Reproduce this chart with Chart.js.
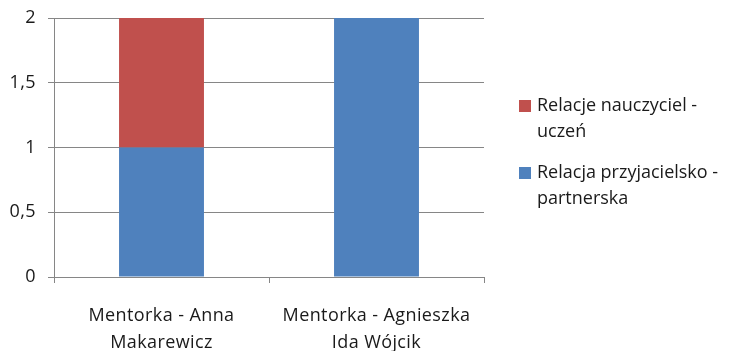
<!DOCTYPE html>
<html>
<head>
<meta charset="utf-8">
<script src="https://cdn.jsdelivr.net/npm/chart.js@4/dist/chart.umd.min.js"></script>
<style>
  html, body { margin: 0; padding: 0; background: #ffffff; }
  #wrap { width: 732px; height: 351px; }
</style>
</head>
<body>
<div id="wrap"><canvas id="c" width="732" height="351"></canvas></div>
<script>
// Categories (two-line axis labels)
const categories = [
  ["Mentorka - Anna", "Makarewicz"],
  ["Mentorka - Agnieszka", "Ida Wójcik"]
];

// Series values
const friendlyValues = [1, 2];   // Relacja przyjacielsko - partnerska
const teacherValues  = [1, 0];   // Relacje nauczyciel - uczeń

// Value axis ticks
const yTicks = [0, 0.5, 1, 1.5, 2];

// Series names, wrapped as shown in the legend
const friendlyName = ["Relacja przyjacielsko -", "partnerska"];
const teacherName  = ["Relacje nauczyciel -", "uczeń"];

const FONT = '"Open Sans", "DejaVu Sans", sans-serif';
const GRID = '#868686';
const TEXT = '#1a1a1a';

// Slightly open letter spacing for all canvas text
const spacing = {
  id: 'spacing',
  beforeInit(chart) { chart.ctx.letterSpacing = '0.4px'; },
  beforeDraw(chart) { chart.ctx.letterSpacing = '0.4px'; }
};

// Legend drawn at the right of the plot, red series listed first
const sideLegend = {
  id: 'sideLegend',
  afterDraw(chart) {
    const ctx = chart.ctx;
    const ds = chart.data.datasets;
    const entries = [
      { lines: teacherName, color: ds[1].backgroundColor, top: 100 },
      { lines: friendlyName, color: ds[0].backgroundColor, top: 167 }
    ];
    const boxX = chart.chartArea.right + 35;
    const boxSize = 12;
    const lineGap = 26;
    ctx.save();
    ctx.letterSpacing = '0px';
    ctx.font = '18px ' + FONT;
    ctx.textBaseline = 'middle';
    ctx.textAlign = 'left';
    entries.forEach(e => {
      ctx.fillStyle = e.color;
      ctx.fillRect(boxX, e.top, boxSize, boxSize);
      ctx.fillStyle = TEXT;
      e.lines.forEach((t, i) => {
        ctx.fillText(t, boxX + boxSize + 6, e.top + 6 + i * lineGap);
      });
    });
    ctx.restore();
  }
};

new Chart(document.getElementById('c'), {
  type: 'bar',
  data: {
    labels: categories,
    datasets: [
      {
        label: friendlyName.join(' '),
        data: friendlyValues,
        backgroundColor: '#4F81BD',
        borderWidth: 0,
        categoryPercentage: 1,
        barPercentage: 0.395
      },
      {
        label: teacherName.join(' '),
        data: teacherValues,
        backgroundColor: '#C0504D',
        borderWidth: 0,
        categoryPercentage: 1,
        barPercentage: 0.395
      }
    ]
  },
  options: {
    responsive: false,
    animation: false,
    layout: { padding: { top: 18, right: 248, bottom: 0, left: 0 } },
    plugins: {
      legend: { display: false },
      tooltip: { enabled: false }
    },
    scales: {
      x: {
        stacked: true,
        grid: {
          offset: true,
          drawOnChartArea: false,
          drawTicks: true,
          tickLength: 6,
          color: GRID
        },
        border: { color: GRID, width: 1 },
        ticks: {
          color: TEXT,
          font: { family: FONT, size: 18, lineHeight: 1.47 },
          padding: 20,
          maxRotation: 0,
          autoSkip: false
        },
        afterFit(scale) { scale.height = 74; }
      },
      y: {
        stacked: true,
        min: 0,
        max: 2,
        afterBuildTicks(scale) {
          scale.ticks = yTicks.map(v => ({ value: v }));
        },
        grid: {
          color: GRID,
          tickLength: 6,
          drawTicks: true
        },
        border: { color: GRID, width: 1 },
        ticks: {
          color: TEXT,
          font: { family: FONT, size: 18 },
          padding: 12,
          callback: v => String(v).replace('.', ',')
        },
        afterFit(scale) {
          scale.width = 54;
          scale.paddingTop = 0;
          scale.paddingBottom = 0;
        }
      }
    }
  },
  plugins: [spacing, sideLegend]
});
</script>
</body>
</html>
